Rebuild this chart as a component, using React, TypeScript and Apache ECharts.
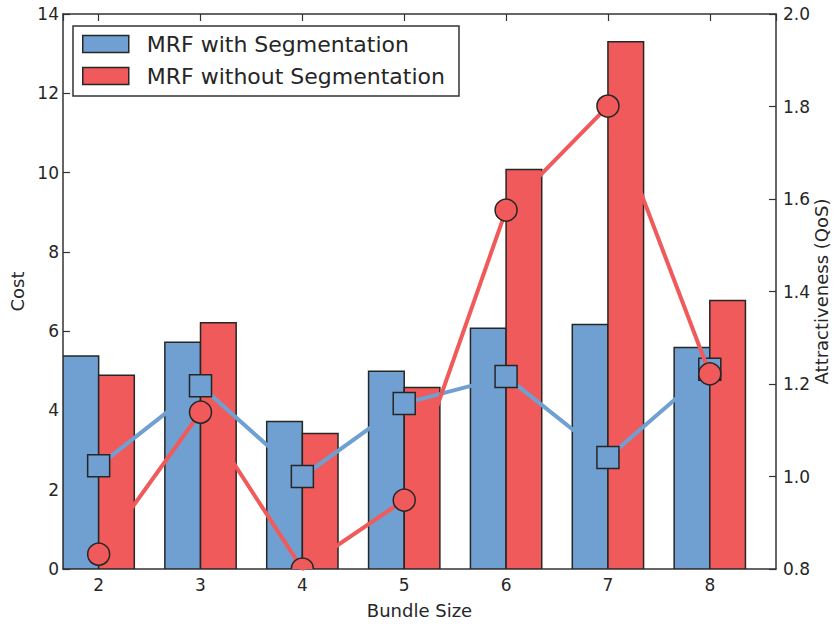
import React, { useEffect, useRef } from "react";
import * as echarts from "echarts";

const categories = [2, 3, 4, 5, 6, 7, 8];
const costWithSeg = [5.37, 5.72, 3.72, 4.99, 6.07, 6.17, 5.59];
const costWithoutSeg = [4.89, 6.21, 3.42, 4.58, 10.08, 13.3, 6.77];
const qosWithSeg = [1.023, 1.196, 1.0, 1.158, 1.216, 1.041, 1.232];
const qosWithoutSeg = [0.832, 1.139, 0.8, 0.949, 1.576, 1.801, 1.222];
const costTicks = [0, 2, 4, 6, 8, 10, 12, 14];
const qosTicks = [0.8, 1.0, 1.2, 1.4, 1.6, 1.8, 2.0];

const NAME_WITH = "MRF with Segmentation";
const NAME_WITHOUT = "MRF without Segmentation";

const BLUE = "#6fa0d1";
const RED = "#f05a5a";
const EDGE = "#262626";
const TEXT = "#262626";
const FONT = "DejaVu Sans";
const BAR_W = 0.35;

function barSeries(name: string, values: number[], color: string, side: number) {
  return {
    name,
    type: "custom",
    xAxisIndex: 0,
    yAxisIndex: 0,
    z: 2,
    clip: true,
    itemStyle: { color },
    encode: { x: 0, y: 1 },
    data: categories.map((c, i) => [c, values[i]]),
    renderItem: (params: any, api: any) => {
      const x = api.value(0);
      const y = api.value(1);
      const a = side < 0 ? x - BAR_W : x;
      const b = side < 0 ? x : x + BAR_W;
      const p0 = api.coord([a, y]);
      const p1 = api.coord([b, 0]);
      return {
        type: "rect",
        shape: { x: p0[0], y: p0[1], width: p1[0] - p0[0], height: p1[1] - p0[1] },
        style: { fill: color, stroke: EDGE, lineWidth: 1.5 },
      };
    },
  };
}

function lineSeries(name: string, values: number[], color: string, z: number) {
  return {
    name,
    type: "line",
    xAxisIndex: 0,
    yAxisIndex: 1,
    z,
    symbol: "none",
    lineStyle: { color, width: 4 },
    data: categories.map((c, i) => [c, values[i]]),
  };
}

function markerSeries(name: string, values: number[], color: string, shape: string, z: number) {
  return {
    name,
    type: "custom",
    xAxisIndex: 0,
    yAxisIndex: 1,
    z,
    clip: true,
    encode: { x: 0, y: 1 },
    data: categories.map((c, i) => [c, values[i]]),
    renderItem: (params: any, api: any) => {
      const p = api.coord([api.value(0), api.value(1)]);
      const s = 22;
      if (shape === "square") {
        return {
          type: "rect",
          shape: { x: p[0] - s / 2, y: p[1] - s / 2, width: s, height: s },
          style: { fill: color, stroke: EDGE, lineWidth: 1.5 },
        };
      }
      return {
        type: "circle",
        shape: { cx: p[0], cy: p[1], r: s / 2 },
        style: { fill: color, stroke: EDGE, lineWidth: 1.5 },
      };
    },
  };
}

const axisLine = { show: true, lineStyle: { color: "#333", width: 1.5 } };
const axisTick = { show: true, inside: true, length: 7, lineStyle: { color: "#333", width: 1.2 } };

export default function App() {
  const ref = useRef<HTMLDivElement>(null);
  useEffect(() => {
    if (!ref.current) return;
    const chart = echarts.init(ref.current, null, { renderer: "svg" });
    const option: any = {
      animation: false,
      textStyle: { fontFamily: FONT },
      grid: { left: 63, right: 59, top: 14, bottom: 57, containLabel: false, outerBoundsMode: "none" },
      legend: {
        show: true,
        data: [NAME_WITH, NAME_WITHOUT],
        orient: "vertical",
        left: 73,
        top: 26,
        padding: [7, 14, 9, 9],
        itemGap: 10,
        itemWidth: 46,
        itemHeight: 17,
        icon: "rect",
        selectedMode: false,
        borderColor: "#333",
        borderWidth: 1.5,
        borderRadius: 0,
        backgroundColor: "#fff",
        itemStyle: { borderColor: EDGE, borderWidth: 1.5 },
        textStyle: { fontFamily: FONT, fontSize: 22, color: TEXT, padding: [0, 0, 0, 13] },
      },
      xAxis: [
        {
          type: "value",
          position: "bottom",
          min: 1.65,
          max: 8.65,
          minInterval: 1,
          maxInterval: 1,
          axisLine,
          axisTick,
          splitLine: { show: false },
          axisLabel: {
            fontFamily: FONT,
            fontSize: 17,
            color: TEXT,
            margin: 7,
            showMinLabel: false,
            showMaxLabel: false,
            formatter: (v: number) => (categories.indexOf(v) >= 0 ? String(v) : ""),
          },
          name: "Bundle Size",
          nameLocation: "middle",
          nameGap: 32,
          nameTextStyle: { fontFamily: FONT, fontSize: 18, color: TEXT },
        },
        {
          type: "value",
          position: "top",
          min: 1.65,
          max: 8.65,
          minInterval: 1,
          maxInterval: 1,
          axisLine,
          axisTick,
          splitLine: { show: false },
          axisLabel: { show: false },
        },
      ],
      yAxis: [
        {
          type: "value",
          position: "left",
          min: costTicks[0],
          max: costTicks[costTicks.length - 1],
          interval: 2,
          axisLine,
          axisTick,
          splitLine: { show: false },
          axisLabel: { fontFamily: FONT, fontSize: 17, color: TEXT, margin: 4 },
          name: "Cost",
          nameLocation: "middle",
          nameGap: 37,
          nameTextStyle: { fontFamily: FONT, fontSize: 18, color: TEXT },
        },
        {
          type: "value",
          position: "right",
          min: qosTicks[0],
          max: qosTicks[qosTicks.length - 1],
          interval: 0.2,
          axisLine,
          axisTick,
          splitLine: { show: false },
          axisLabel: {
            fontFamily: FONT,
            fontSize: 17,
            color: TEXT,
            margin: 7,
            formatter: (v: number) => v.toFixed(1),
          },
          name: "Attractiveness (QoS)",
          nameLocation: "middle",
          nameGap: 36,
          nameMoveOverlap: false,
          nameTextStyle: { fontFamily: FONT, fontSize: 18, color: TEXT },
        },
      ],
      series: [
        barSeries(NAME_WITH, costWithSeg, BLUE, -1),
        barSeries(NAME_WITHOUT, costWithoutSeg, RED, 1),
        lineSeries("QoS with Segmentation", qosWithSeg, BLUE, 3),
        markerSeries("QoS with Segmentation markers", qosWithSeg, BLUE, "square", 4),
        lineSeries("QoS without Segmentation", qosWithoutSeg, RED, 5),
        markerSeries("QoS without Segmentation markers", qosWithoutSeg, RED, "circle", 6),
      ],
    };
    chart.setOption(option);
    return () => chart.dispose();
  }, []);
  return (
    <div
      ref={ref}
      style={{ position: "absolute", left: 0, top: 0, width: 835, height: 626, background: "#fff" }}
    />
  );
}
